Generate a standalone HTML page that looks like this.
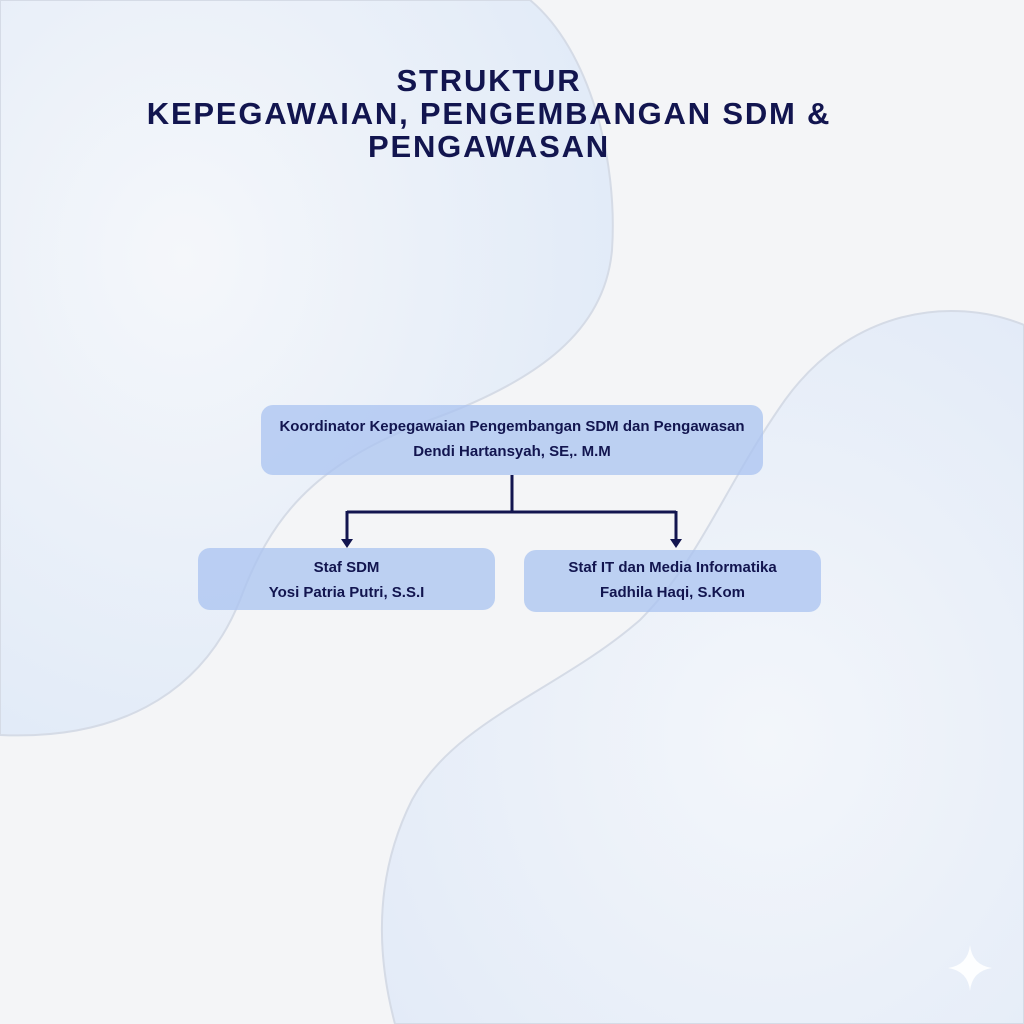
<!DOCTYPE html>
<html><head><meta charset="utf-8"><style>
body{margin:0;width:1024px;height:1024px;overflow:hidden;background:#f4f5f7;font-family:"Liberation Sans",sans-serif;}
.t{position:absolute;left:0;width:978px;text-align:center;color:#12154f;font-weight:bold;font-size:31px;letter-spacing:1.8px;line-height:33px;top:64px;}
.b{position:absolute;background:rgba(170,195,240,0.75);border-radius:12px;color:#12154f;font-weight:bold;font-size:15px;text-align:center;line-height:25px;}
</style></head><body>
<svg width="1024" height="1024" style="position:absolute;left:0;top:0">
<defs>
<radialGradient id="g1" cx="0.3" cy="0.35" r="0.7"><stop offset="0" stop-color="#f5f7fa"/><stop offset="1" stop-color="#e2ebf8"/></radialGradient>
<radialGradient id="g2" cx="0.6" cy="0.6" r="0.7"><stop offset="0" stop-color="#f3f6fa"/><stop offset="1" stop-color="#e3ebf8"/></radialGradient>
</defs>
<path d="M0,0 L530,0 C590,50 618,160 612,250 C605,330 540,380 430,420 C310,465 270,520 240,600 C200,700 110,740 0,735 Z" fill="url(#g1)" stroke="#d5dbe6" stroke-width="2"/>
<path d="M1024,325 C950,295 850,310 785,400 C725,485 700,560 640,620 C560,690 455,720 412,800 C372,880 378,960 395,1024 L1024,1024 Z" fill="url(#g2)" stroke="#d5dbe6" stroke-width="2"/>
<path d="M512,475 V512 M347,512 H676 M347,511 V540 M676,511 V540" stroke="#12154f" stroke-width="3" fill="none"/>
<path d="M341,539 L353,539 L347,548 Z M670,539 L682,539 L676,548 Z" fill="#12154f"/>
<path d="M970,945 Q972,965 992,968 Q972,971 970,991 Q968,971 948,968 Q968,965 970,945 Z" fill="#fff" opacity="0.9"/>
</svg>
<div class="t">STRUKTUR<br>KEPEGAWAIAN, PENGEMBANGAN SDM &amp;<br>PENGAWASAN</div>
<div class="b" style="left:261px;top:405px;width:502px;height:70px;padding-top:9px;box-sizing:border-box">Koordinator Kepegawaian Pengembangan SDM dan Pengawasan<br>Dendi Hartansyah, SE,. M.M</div>
<div class="b" style="left:198px;top:548px;width:297px;height:62px;padding-top:7px;box-sizing:border-box">Staf SDM<br>Yosi Patria Putri, S.S.I</div>
<div class="b" style="left:524px;top:550px;width:297px;height:62px;padding-top:5px;box-sizing:border-box">Staf IT dan Media Informatika<br>Fadhila Haqi, S.Kom</div>
</body></html>
